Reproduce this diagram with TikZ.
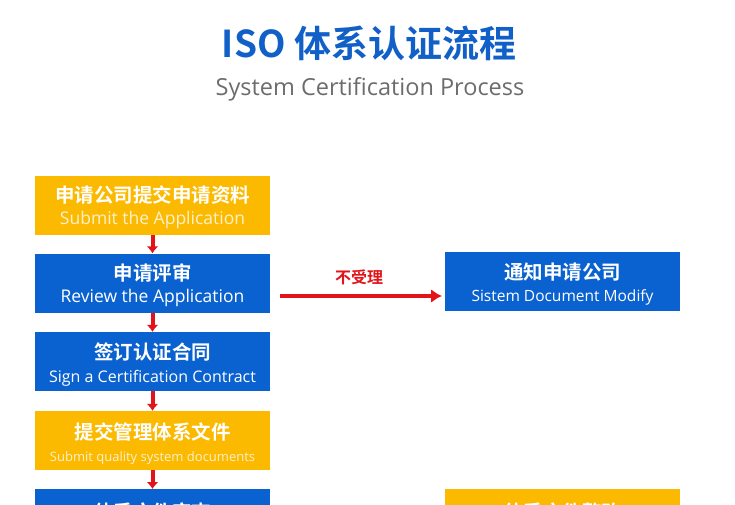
\documentclass[tikz,border=0pt]{standalone}
\usepackage{fontspec}
\setmainfont{Open Sans}
\newfontfamily\cjk{Noto Sans CJK SC}[BoldFont={Noto Sans CJK SC Bold}]
\definecolor{yel}{HTML}{FBB900}
\definecolor{blu}{HTML}{0A62D0}
\definecolor{ttl}{HTML}{1160C8}
\definecolor{arr}{HTML}{E2141A}
\usetikzlibrary{arrows.meta}
\begin{document}
\begin{tikzpicture}[x=1pt,y=-1pt,
  box/.style={minimum width=235pt,minimum height=59pt,inner sep=0pt,text=white,align=center},
  cn/.style={font=\cjk\bfseries\fontsize{19.5}{22}\selectfont},
  en/.style={font=\fontsize{17.5}{20}\selectfont},
  rarr/.style={draw=arr,line width=4.5pt,-{Latex[length=11pt,width=14pt]}}]
\useasboundingbox (0,0) rectangle (735,505);
\clip (0,0) rectangle (735,505);
\node[text=ttl,font=\cjk\bfseries\fontsize{37}{40}\selectfont] (t) at (369,43) {ISO 体系认证流程};
\node[text=gray!85!black,font=\fontsize{23.5}{26}\selectfont] (st) at (370,89) {System Certification Process};
\node[box,fill=yel] (b1) at (152.5,205.5) {};
\node[box,fill=blu] (b2) at (152.5,283) {};
\node[box,fill=blu] (b3) at (152.5,361.5) {};
\node[box,fill=yel] (b4) at (152.5,440.5) {};
\node[box,fill=blu,anchor=north] (b5) at (152.5,489) {};
\node[box,fill=blu] (r1) at (562.5,281.5) {};
\node[box,fill=yel,anchor=north] (r2) at (562.5,489) {};
\node[cn,text=white] at (152.5,195) {申请公司提交申请资料};
\node[en,text=white!80!yel] at (152.5,220) {Submit the Application};
\node[cn,text=white] at (152.5,273) {申请评审};
\node[en,text=white] at (152.5,298) {Review the Application};
\node[cn,text=white] at (152.5,352) {签订认证合同};
\node[en,text=white,font=\fontsize{16}{18}\selectfont] at (152.5,378) {Sign a Certification Contract};
\node[cn,text=white] at (152.5,432) {提交管理体系文件};
\node[en,text=white!80!yel,font=\fontsize{13}{15}\selectfont] at (152.5,458) {Submit quality system documents};
\node[cn,text=white] at (562.5,272) {通知申请公司};
\node[en,text=white,font=\fontsize{15.5}{18}\selectfont] at (562.5,297) {Sistem Document Modify};
\node[cn,text=white] at (152.5,512) {体系文件审查};
\node[cn,text=white] at (562.5,512) {体系文件整改};
\node[text=arr,font=\cjk\bfseries\fontsize{16}{18}\selectfont] (lab) at (359,277) {不受理};
\coordinate (hs) at (280,296);
\coordinate (he) at (442,296);
\draw[rarr] (hs) -- (he);
\foreach \a/\b in {b1/b2,b2/b3,b3/b4,b4/b5}
  \draw[draw=arr,line width=4pt,-{Latex[length=7pt,width=12pt]}] (\a.south) -- (\b.north);
\end{tikzpicture}
\end{document}
